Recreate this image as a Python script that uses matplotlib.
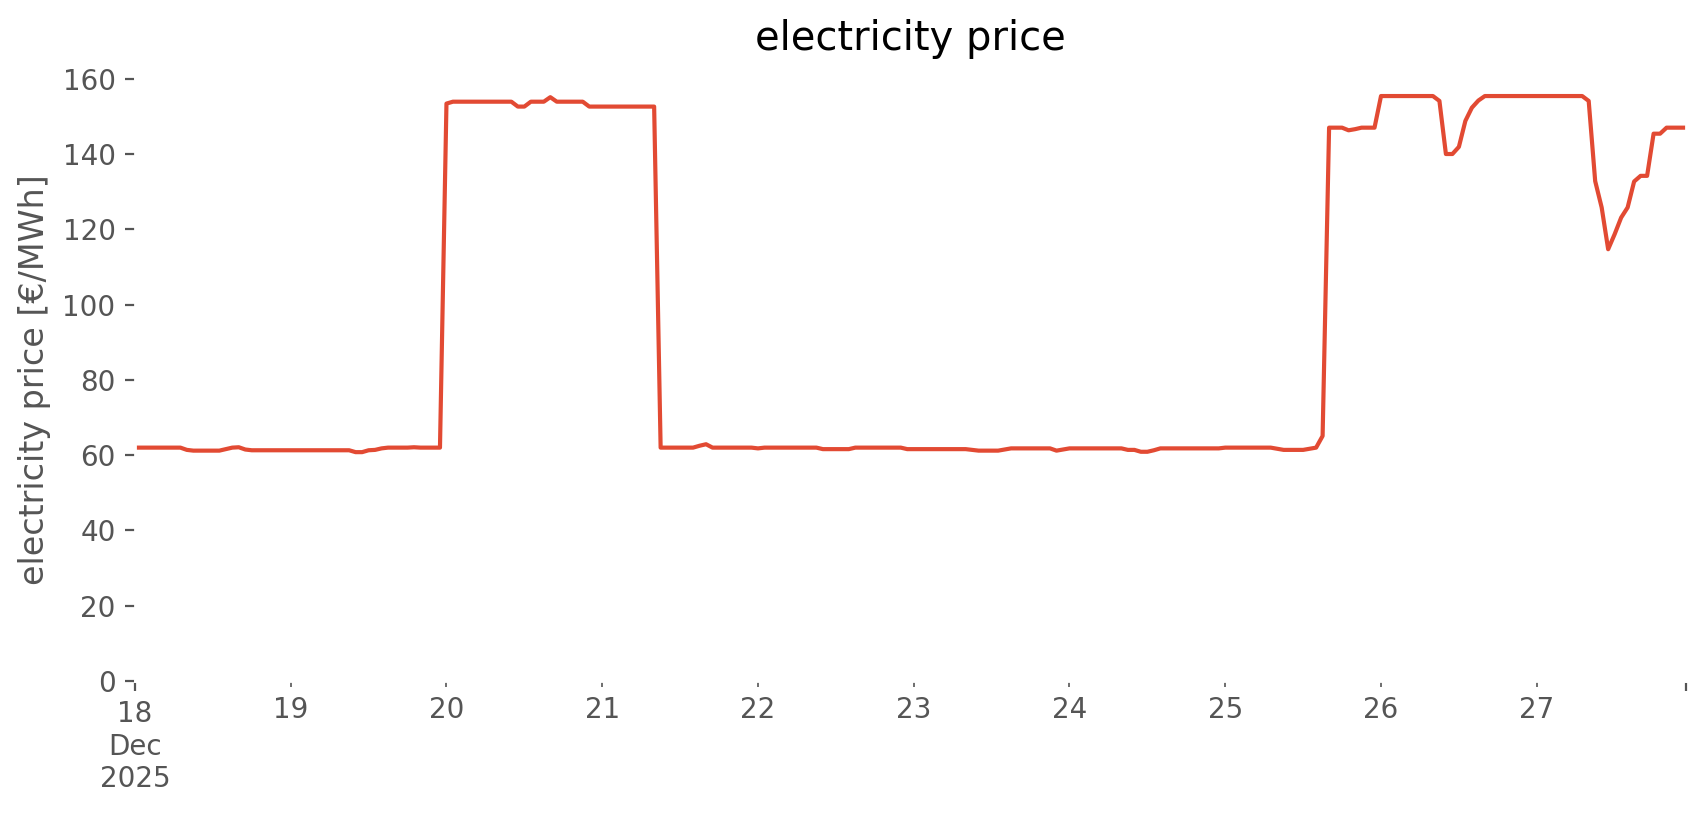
import matplotlib
matplotlib.use('Agg')
import matplotlib.pyplot as plt
import pandas as pd

# hourly prices per day [EUR/MWh], 18 Dec .. 27 Dec 2025
dec18 = [62.0] * 8 + [61.4, 61.2, 61.2, 61.2, 61.2, 61.2, 61.6, 62.0, 62.1, 61.5] + [61.3] * 6
dec19 = [61.3] * 10 + [60.8, 60.8, 61.3, 61.4, 61.8] + [62.0, 62.0, 62.0, 62.0, 62.1, 62.0, 62.0, 62.0, 62.0]
dec20 = [153.4] + [153.9] * 10 + [152.6, 152.6] + [153.9] * 3 + [155.1] + [153.9] * 5 + [152.6] * 2
dec21 = [152.6] * 9 + [62.0] * 6 + [62.5, 62.9] + [62.0] * 7
dec22 = [61.8] + [62.0] * 9 + [61.6] * 5 + [62.0] * 8 + [61.6]
dec23 = [61.6] * 9 + [61.4] + [61.2] * 4 + [61.5] + [61.8] * 7 + [61.2, 61.5]
dec24 = [61.8] * 9 + [61.4, 61.4, 60.9, 60.9, 61.3] + [61.8] * 10
dec25 = [62.0] * 8 + [61.7] + [61.4] * 4 + [61.7, 62.0, 65.1] + [147.0] * 3 + [146.3, 146.6] + [147.0] * 3
dec26 = [155.4] * 9 + [154.1, 140.0, 140.0, 141.9, 148.8, 152.3, 154.2] + [155.4] * 8
dec27 = [155.4] * 8 + [154.1, 132.8, 125.8, 114.7, 118.7, 123.1, 125.8, 132.7,
                       134.2, 134.2, 145.4, 145.4] + [147.0] * 4

price = dec18 + dec19 + dec20 + dec21 + dec22 + dec23 + dec24 + dec25 + dec26 + dec27
times = pd.date_range('2025-12-18 00:00', periods=len(price), freq='h')
series = pd.Series(price, index=times)

style_rc = {
    'axes.facecolor': 'white',
    'axes.edgecolor': 'white',
    'axes.grid': False,
}

with plt.style.context('ggplot'):
    plt.rcParams.update(style_rc)
    fig = plt.figure(figsize=(1706 / 200, 815 / 200), dpi=200)
    ax = fig.add_subplot(1, 1, 1)
    series.plot(ax=ax)
    ax.set_title('electricity price', pad=10)
    ax.set_ylabel('electricity price [€/MWh]')
    ax.set_ylim(bottom=0)
    fig.subplots_adjust(left=0.0791, right=0.9883, top=0.904, bottom=0.1644)
    fig.savefig('out.png', dpi=200)
